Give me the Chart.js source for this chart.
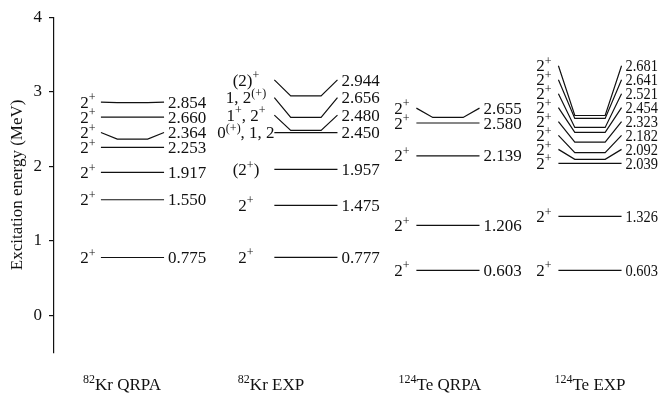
<!DOCTYPE html>
<html>
<head>
<meta charset="utf-8">
<script src="https://cdn.jsdelivr.net/npm/chart.js@4/dist/chart.umd.min.js"></script>
<style>
  html, body { margin: 0; padding: 0; background: #fff; }
  #wrap { width: 661px; height: 400px; }
</style>
</head>
<body>
<div id="wrap"><canvas id="levels" width="661" height="400"></canvas></div>
<script>
// Spectra: column names (rich text, ^{..} marks a superscript)
const columns = ['^{82}Kr QRPA', '^{82}Kr EXP', '^{124}Te QRPA', '^{124}Te EXP'];

// Excitation energies in MeV
const krQrpaEnergy = [0.775, 1.550, 1.917, 2.253, 2.364, 2.660, 2.854];
const krExpEnergy  = [0.777, 1.475, 1.957, 2.450, 2.480, 2.656, 2.944];
const teQrpaEnergy = [0.603, 1.206, 2.139, 2.580, 2.655];
const teExpEnergy  = [0.603, 1.326, 2.039, 2.092, 2.182, 2.323, 2.454, 2.521, 2.641, 2.681];

// Spin-parity assignments
const krQrpaSpin = ['2^{+}', '2^{+}', '2^{+}', '2^{+}', '2^{+}', '2^{+}', '2^{+}'];
const krExpSpin  = ['2^{+}', '2^{+}', '(2^{+})', '0^{(+)}, 1, 2', '1^{+}, 2^{+}', '1, 2^{(+)}', '(2)^{+}'];
const teQrpaSpin = ['2^{+}', '2^{+}', '2^{+}', '2^{+}', '2^{+}'];
const teExpSpin  = ['2^{+}', '2^{+}', '2^{+}', '2^{+}', '2^{+}', '2^{+}', '2^{+}', '2^{+}', '2^{+}', '2^{+}'];

// Y axis ticks
const yTicks = [0, 1, 2, 3, 4];

// Drawing layout per column (x in axis units, gap in MeV)
const layout = [
  { energy: krQrpaEnergy, spin: krQrpaSpin, center: 1.293, spinX: 0.56,  nameX: 1.12,  gap: 0.200 },
  { energy: krExpEnergy,  spin: krExpSpin,  center: 4.150, spinX: 3.163, nameX: 3.575, gap: 0.236 },
  { energy: teQrpaEnergy, spin: teQrpaSpin, center: 6.490, spinX: 5.733, nameX: 6.359, gap: 0.200 },
  { energy: teExpEnergy,  spin: teExpSpin,  center: 8.830, spinX: 8.072, nameX: 8.830, gap: 0.187 }
];
const HALF = 0.52;   // half length of a level line
const INSET = 0.27;  // length of the slanted connectors
const INK = '#111';
const FONT = 'Liberation Serif, Times New Roman, serif';

// Label heights: spread crowded labels upward by a minimum gap
layout.forEach(col => {
  col.labelY = [];
  let prev = -Infinity;
  col.energy.forEach(e => {
    const y = Math.max(e, prev + col.gap);
    col.labelY.push(y);
    prev = y;
  });
});

// One line dataset per level
const datasets = [];
layout.forEach(col => {
  const x0 = col.center - HALF, x1 = col.center + HALF;
  col.energy.forEach((e, i) => {
    const d = col.labelY[i];
    const pts = (d === e)
      ? [{ x: x0, y: e }, { x: x1, y: e }]
      : [{ x: x0, y: d }, { x: x0 + INSET, y: e }, { x: x1 - INSET, y: e }, { x: x1, y: d }];
    datasets.push({
      data: pts, showLine: true, borderColor: INK, borderWidth: 1.2,
      pointRadius: 0, fill: false, tension: 0
    });
  });
});

// Rich text drawing with superscripts
function parseRich(s) {
  const out = [];
  const re = /\^\{([^}]*)\}/g;
  let last = 0, m;
  while ((m = re.exec(s)) !== null) {
    if (m.index > last) out.push({ t: s.slice(last, m.index), sup: false });
    out.push({ t: m[1], sup: true });
    last = re.lastIndex;
  }
  if (last < s.length) out.push({ t: s.slice(last), sup: false });
  return out;
}
function drawRich(ctx, s, x, y, align, size, maxWidth) {
  const supSize = Math.round(size * 0.72);
  const segs = parseRich(s);
  let w = 0;
  segs.forEach(g => {
    ctx.font = (g.sup ? supSize : size) + 'px ' + FONT;
    g.w = ctx.measureText(g.t).width;
    w += g.w;
  });
  // squeeze horizontally when the label would run past the canvas edge
  const k = maxWidth && w > maxWidth ? maxWidth / w : 1;
  let cx = align === 'center' ? x - w * k / 2 : align === 'right' ? x - w * k : x;
  ctx.textAlign = 'left';
  ctx.textBaseline = 'alphabetic';
  const base = y + size * 0.33;
  segs.forEach(g => {
    ctx.font = (g.sup ? supSize : size) + 'px ' + FONT;
    ctx.fillText(g.t, cx, g.sup ? base - size * 0.38 : base, g.w * k);
    cx += g.w * k;
  });
}

const levelLabels = {
  id: 'levelLabels',
  afterDatasetsDraw(chart) {
    const { ctx } = chart;
    const xs = chart.scales.x, ys = chart.scales.y;
    ctx.save();
    ctx.fillStyle = INK;
    layout.forEach((col, c) => {
      const xr = xs.getPixelForValue(col.center + HALF) + 4;
      const xl = xs.getPixelForValue(col.spinX);
      col.energy.forEach((e, i) => {
        const py = ys.getPixelForValue(col.labelY[i]);
        drawRich(ctx, e.toFixed(3), xr, py, 'left', 17, chart.width - xr - 3);
        drawRich(ctx, col.spin[i], xl, py, 'center', 17);
      });
      drawRich(ctx, columns[c], xs.getPixelForValue(col.nameX), 384, 'center', 17);
    });
    ctx.restore();
  }
};

new Chart(document.getElementById('levels'), {
  type: 'scatter',
  data: { datasets },
  plugins: [levelLabels],
  options: {
    responsive: false,
    animation: false,
    events: [],
    layout: { padding: { top: 15, bottom: 47.5, left: 0, right: 0 } },
    plugins: { legend: { display: false }, tooltip: { enabled: false } },
    scales: {
      x: { type: 'linear', min: 0, max: 10, display: false },
      y: {
        type: 'linear', min: -0.5, max: 4,
        afterBuildTicks(s) { s.ticks = yTicks.map(v => ({ value: v })); },
        afterFit(s) { s.width = 54; },
        ticks: { color: INK, padding: 7, font: { family: FONT, size: 17 } },
        grid: { drawOnChartArea: false, drawTicks: true, tickLength: 5, color: INK, lineWidth: 1.2 },
        border: { display: true, color: INK, width: 1.2 },
        title: {
          display: true, text: 'Excitation energy (MeV)', color: INK,
          font: { family: FONT, size: 17 }, padding: { top: 7, bottom: 0 }
        }
      }
    }
  }
});
</script>
</body>
</html>
